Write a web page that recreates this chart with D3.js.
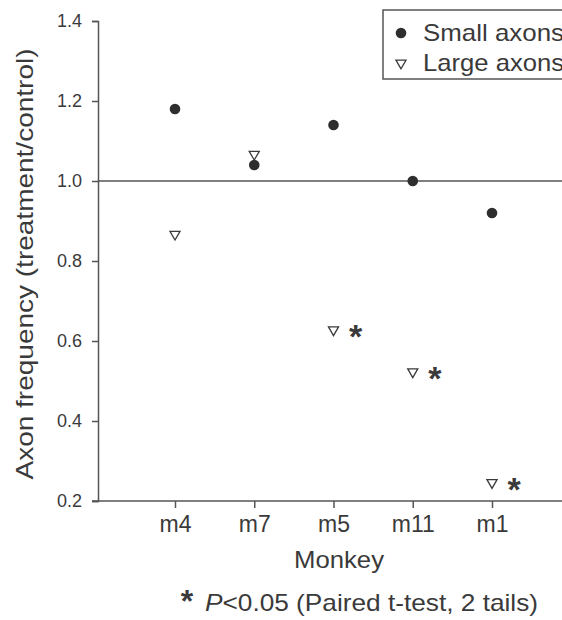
<!DOCTYPE html>
<html>
<head>
<meta charset="utf-8">
<script src="https://cdn.jsdelivr.net/npm/d3@7"></script>
<style>
  body { margin: 0; background: #fff; }
  text { font-family: "Liberation Sans", Arial, sans-serif; fill: #3a3a3a; }
</style>
</head>
<body>
<script>
const monkeys = ['m4', 'm7', 'm5', 'm11', 'm1'];
const smallAxons = [1.18, 1.04, 1.14, 1.00, 0.92];
const largeAxons = [0.867, 1.067, 0.628, 0.523, 0.246];
const significant = [false, false, true, true, true];
const yTicks = [0.2, 0.4, 0.6, 0.8, 1.0, 1.2, 1.4];

const width = 562, height = 620;
const svg = d3.select('body').append('svg')
  .attr('width', width).attr('height', height);

const x = d3.scalePoint().domain(monkeys).range([175, 492]);
const y = d3.scaleLinear().domain([0.2, 1.4]).range([501, 21]);
const ink = '#555';
const font = '"Liberation Sans", Arial, sans-serif';

// y axis
const yAxis = svg.append('g')
  .attr('transform', 'translate(98,0)')
  .call(d3.axisLeft(y).tickValues(yTicks).tickFormat(d3.format('.1f')).tickSize(6).tickPadding(10));
yAxis.select('.domain').attr('stroke', ink).attr('stroke-width', 1.5);
yAxis.selectAll('.tick line').attr('stroke', ink).attr('stroke-width', 1.5);
yAxis.selectAll('.tick text').style('font-size', '18px').style('font-family', font)
  .attr('fill', '#3a3a3a');

// x axis
const xAxis = svg.append('g')
  .attr('transform', 'translate(0,501)')
  .call(d3.axisBottom(x).tickSize(7).tickPadding(8));
xAxis.select('.domain').attr('d', 'M92,0H562').attr('stroke', ink).attr('stroke-width', 1.5);
xAxis.selectAll('.tick line').attr('stroke', ink).attr('stroke-width', 1.5);
xAxis.selectAll('.tick text').style('font-size', '23px').style('font-family', font)
  .attr('fill', '#3a3a3a');

// reference line at 1.0
svg.append('line')
  .attr('x1', 98).attr('x2', width)
  .attr('y1', y(1.0)).attr('y2', y(1.0))
  .attr('stroke', ink).attr('stroke-width', 1.5);

// small axons
svg.selectAll('circle.small')
  .data(smallAxons)
  .join('circle')
  .attr('class', 'small')
  .attr('cx', (d, i) => x(monkeys[i]))
  .attr('cy', d => y(d))
  .attr('r', 5.3)
  .attr('fill', '#2e2e2e');

// large axons
const tri = d3.symbol().type(d3.symbolTriangle).size(44);
svg.selectAll('path.large')
  .data(largeAxons)
  .join('path')
  .attr('class', 'large')
  .attr('d', tri)
  .attr('transform', (d, i) => `translate(${x(monkeys[i])},${y(d)}) rotate(180)`)
  .attr('fill', '#fff')
  .attr('stroke', '#3a3a3a')
  .attr('stroke-width', 1.3);

// significance stars
svg.selectAll('text.star')
  .data(largeAxons.map((d, i) => ({ v: d, m: monkeys[i], s: significant[i] })).filter(d => d.s))
  .join('text')
  .attr('class', 'star')
  .attr('x', d => x(d.m) + 22)
  .attr('y', d => y(d.v) + 18)
  .attr('text-anchor', 'middle')
  .style('font-size', '34px')
  .style('font-weight', 'bold')
  .attr('fill', '#2a2a2a')
  .text('*');

// legend
const legend = svg.append('g');
legend.append('rect')
  .attr('x', 383).attr('y', 10).attr('width', 200).attr('height', 69)
  .attr('fill', '#fff').attr('stroke', ink).attr('stroke-width', 1.5);
legend.append('circle').attr('cx', 401).attr('cy', 33).attr('r', 5.3).attr('fill', '#2e2e2e');
legend.append('path').attr('d', tri)
  .attr('transform', 'translate(401,63) rotate(180)')
  .attr('fill', '#fff').attr('stroke', '#3a3a3a').attr('stroke-width', 1.3);
legend.append('text').attr('x', 423).attr('y', 41).style('font-size', '24px')
  .attr('textLength', 141).attr('lengthAdjust', 'spacingAndGlyphs').text('Small axons');
legend.append('text').attr('x', 423).attr('y', 71).style('font-size', '24px')
  .attr('textLength', 141).attr('lengthAdjust', 'spacingAndGlyphs').text('Large axons');

// axis titles
svg.append('text')
  .attr('transform', 'translate(33,264) rotate(-90)')
  .attr('text-anchor', 'middle')
  .style('font-size', '24px')
  .attr('textLength', 431).attr('lengthAdjust', 'spacingAndGlyphs')
  .text('Axon frequency (treatment/control)');

svg.append('text')
  .attr('x', 339).attr('y', 568)
  .attr('text-anchor', 'middle')
  .style('font-size', '24px')
  .attr('textLength', 90).attr('lengthAdjust', 'spacingAndGlyphs')
  .text('Monkey');

// footnote
svg.append('text')
  .attr('x', 187).attr('y', 612)
  .attr('text-anchor', 'middle')
  .style('font-size', '32px')
  .style('font-weight', 'bold')
  .attr('fill', '#2a2a2a')
  .text('*');

const note = svg.append('text')
  .attr('x', 205).attr('y', 611)
  .style('font-size', '24px')
  .attr('textLength', 333).attr('lengthAdjust', 'spacingAndGlyphs');
note.append('tspan').style('font-style', 'italic').text('P');
note.append('tspan').text('<0.05 (Paired t-test, 2 tails)');
</script>
</body>
</html>
